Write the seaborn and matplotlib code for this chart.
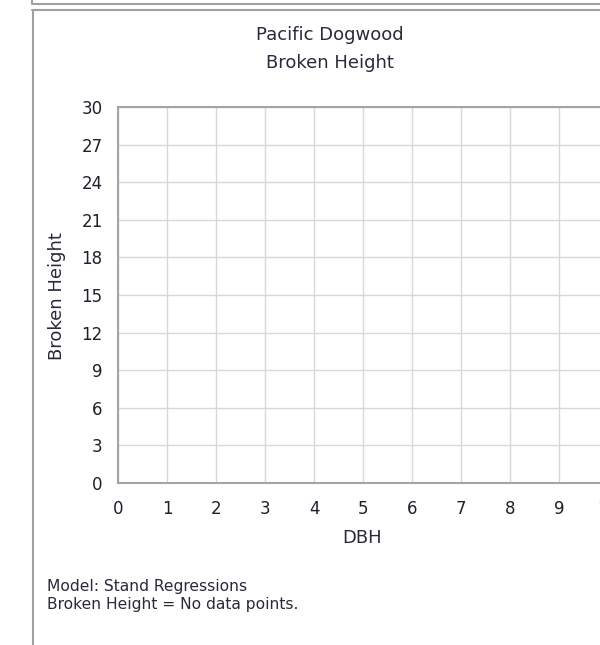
import seaborn as sns
import matplotlib.pyplot as plt
import pandas as pd
from matplotlib.lines import Line2D

sns.set_style("white")
plt.rcParams['font.family'] = ['DejaVu Sans']

# No observations for this species - the chart is an empty frame
dbh = []
broken_height = []
x_ticks = [0, 1, 2, 3, 4, 5, 6, 7, 8, 9, 10]
y_ticks = [0, 3, 6, 9, 12, 15, 18, 21, 24, 27, 30]
species = "Pacific Dogwood"
variable = "Broken Height"
footer = ["Model: Stand Regressions", "Broken Height = No data points."]

df = pd.DataFrame({"DBH": pd.Series(dbh, dtype=float),
                   "Broken Height": pd.Series(broken_height, dtype=float)})

W, H = 600, 645
fig = plt.figure(figsize=(W / 100, H / 100), dpi=100, facecolor='white')

def fx(px):
    return px / W

def fy(py):
    return 1 - py / H

# plot area in pixels (right edge runs past the visible image)
left, right, top, bottom = 118, 608, 107, 483
ax = fig.add_axes([fx(left), fy(bottom), fx(right - left), (bottom - top) / H])
sns.scatterplot(data=df, x="DBH", y="Broken Height", ax=ax)

ax.set_xlim(0, 10)
ax.set_ylim(0, 30)
ax.set_xticks(x_ticks)
ax.set_yticks(y_ticks)
ax.grid(True, color='#d8d8d8', linewidth=1)
ax.set_axisbelow(True)
for s in ax.spines.values():
    s.set_color('#a4a4a4')
    s.set_linewidth(1.5)
ax.tick_params(length=0, labelsize=12, colors='#20202c')
ax.tick_params(axis='y', pad=11)
ax.tick_params(axis='x', pad=12)
ax.set_xlabel("")
ax.set_ylabel("")

txt = dict(color='#2a2a3a', fontsize=13)
fig.text(fx(330), fy(40), species, ha='center', va='baseline', **txt)
fig.text(fx(330), fy(68), variable, ha='center', va='baseline', **txt)
fig.text(fx(362), fy(543), "DBH", ha='center', va='baseline', **txt)
fig.text(fx(56.5), fy(296), variable, ha='center', va='center', rotation=90, **txt)
small = dict(color='#2a2a3a', fontsize=11.2)
fig.text(fx(47), fy(591), footer[0], ha='left', va='baseline', **small)
fig.text(fx(47), fy(609), footer[1], ha='left', va='baseline', **small)

# panel borders
border = dict(color='#a0a0a0', linewidth=1.5, transform=fig.transFigure)
fig.add_artist(Line2D([fx(32), fx(32)], [fy(0), fy(3)], **border))
fig.add_artist(Line2D([fx(32), 1], [fy(3.5), fy(3.5)], **border))
fig.add_artist(Line2D([fx(32), 1], [fy(9.5), fy(9.5)], **border))
fig.add_artist(Line2D([fx(32.5), fx(32.5)], [fy(9.5), 0], **border))

fig.savefig("out.png", dpi=100, facecolor='white')
plt.close(fig)
